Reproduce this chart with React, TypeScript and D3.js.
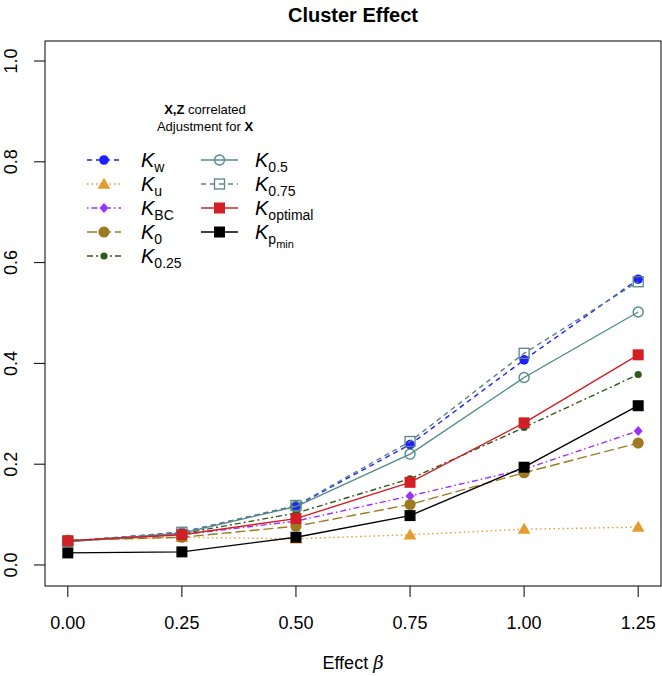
import React from "react";
import * as d3 from "d3";

// effect sizes on the x axis
const betas = [0, 0.25, 0.5, 0.75, 1.0, 1.25];
const xTicks = ["0.00", "0.25", "0.50", "0.75", "1.00", "1.25"];
const yTicks = ["0.0", "0.2", "0.4", "0.6", "0.8", "1.0"];

// rejection rates per method
const kW = [0.047, 0.065, 0.117, 0.239, 0.407, 0.567];
const kU = [0.049, 0.055, 0.052, 0.060, 0.071, 0.075];
const kBC = [0.048, 0.060, 0.087, 0.137, 0.190, 0.266];
const k0 = [0.049, 0.055, 0.077, 0.120, 0.183, 0.242];
const k025 = [0.047, 0.062, 0.103, 0.171, 0.273, 0.378];
const k05 = [0.046, 0.063, 0.116, 0.220, 0.372, 0.502];
const k075 = [0.047, 0.065, 0.118, 0.245, 0.420, 0.562];
const kOpt = [0.048, 0.060, 0.092, 0.164, 0.282, 0.417];
const kPmin = [0.024, 0.026, 0.055, 0.098, 0.194, 0.316];

type Series = {
  sub: string;
  subsub?: string;
  values: number[];
  color: string;
  dash: string;
  shape: "circle" | "bigcircle" | "smallcircle" | "triangle" | "diamond" | "square" | "opencircle" | "opensquare";
};

const series: Series[] = [
  { sub: "w", values: kW, color: "#1f1fff", dash: "5,4", shape: "circle" },
  { sub: "u", values: kU, color: "#e69b2e", dash: "1.5,3", shape: "triangle" },
  { sub: "BC", values: kBC, color: "#9b30ff", dash: "1.5,3,6,3", shape: "diamond" },
  { sub: "0", values: k0, color: "#9c7a22", dash: "10,4", shape: "bigcircle" },
  { sub: "0.25", values: k025, color: "#2e5a1a", dash: "6,3,2,3", shape: "smallcircle" },
  { sub: "0.5", values: k05, color: "#528b8b", dash: "", shape: "opencircle" },
  { sub: "0.75", values: k075, color: "#5a8585", dash: "5,4", shape: "opensquare" },
  { sub: "optimal", values: kOpt, color: "#d21f26", dash: "", shape: "square" },
  { sub: "p", subsub: "min", values: kPmin, color: "#000000", dash: "", shape: "square" },
];

const font = "'Liberation Sans', Arial, Helvetica, sans-serif";

const Marker = ({ shape, color, x, y }: { shape: Series["shape"]; color: string; x: number; y: number }) => {
  switch (shape) {
    case "circle":
      return <circle cx={x} cy={y} r={4.8} fill={color} />;
    case "bigcircle":
      return <circle cx={x} cy={y} r={5.6} fill={color} />;
    case "smallcircle":
      return <circle cx={x} cy={y} r={3.6} fill={color} />;
    case "opencircle":
      return <circle cx={x} cy={y} r={5} fill="none" stroke={color} strokeWidth={1.4} />;
    case "triangle":
      return <path d={d3.symbol(d3.symbolTriangle, 70)()!} transform={`translate(${x},${y + 1})`} fill={color} />;
    case "diamond":
      return <path d={`M${x},${y - 5}L${x + 4.5},${y}L${x},${y + 5}L${x - 4.5},${y}Z`} fill={color} />;
    case "square":
      return <rect x={x - 5.5} y={y - 5.5} width={11} height={11} fill={color} />;
    case "opensquare":
      return <rect x={x - 5} y={y - 5} width={10} height={10} fill="none" stroke={color} strokeWidth={1.3} />;
  }
  return null;
};

const App = () => {
  const width = 662;
  const height = 676;
  const box = { left: 45, right: 661, top: 41, bottom: 586 };

  const x = d3.scaleLinear().domain([-0.05, 1.3]).range([box.left, box.right]);
  const y = d3.scaleLinear().domain([-0.0417, 1.0397]).range([box.bottom, box.top]);

  const line = d3
    .line<number>()
    .x((d, i) => x(betas[i]))
    .y((d) => y(d));

  const legendRows = [0, 1, 2, 3, 4].map((i) => 160 + i * 24);

  return (
    <svg
      width={width}
      height={height}
      style={{ position: "absolute", left: 0, top: 0, background: "#fff" }}
      fontFamily={font}
    >
      <rect width={width} height={height} fill="#fff" />
      <text x={353} y={22} textAnchor="middle" fontSize={20} fontWeight="bold">
        Cluster Effect
      </text>

      {/* series */}
      {series.map((s) => (
        <g key={s.sub + (s.subsub || "")}>
          <path d={line(s.values)!} fill="none" stroke={s.color} strokeWidth={1.4} strokeDasharray={s.dash} />
          {s.values.map((v, i) => (
            <Marker key={i} shape={s.shape} color={s.color} x={x(betas[i])} y={y(v)} />
          ))}
        </g>
      ))}

      {/* frame */}
      <rect
        x={box.left}
        y={box.top}
        width={box.right - box.left}
        height={box.bottom - box.top}
        fill="none"
        stroke="#000"
        strokeWidth={1}
      />

      {/* y axis */}
      {yTicks.map((t) => {
        const yy = y(+t);
        return (
          <g key={t}>
            <line x1={box.left - 11} x2={box.left} y1={yy} y2={yy} stroke="#000" />
            <text
              transform={`translate(17,${yy}) rotate(-90)`}
              textAnchor="middle"
              fontSize={18}
            >
              {t}
            </text>
          </g>
        );
      })}

      {/* x axis */}
      {xTicks.map((t) => {
        const xx = x(+t);
        return (
          <g key={t}>
            <line x1={xx} x2={xx} y1={box.bottom} y2={box.bottom + 11} stroke="#000" />
            <text x={xx} y={629} textAnchor="middle" fontSize={18}>
              {t}
            </text>
          </g>
        );
      })}
      <text x={353} y={669} textAnchor="middle" fontSize={18}>
        Effect <tspan fontStyle="italic" fontFamily="'DejaVu Serif', serif">β</tspan>
      </text>

      {/* legend header */}
      <text x={205} y={114} textAnchor="middle" fontSize={13}>
        <tspan fontWeight="bold">X,Z</tspan> correlated
      </text>
      <text x={205} y={131} textAnchor="middle" fontSize={13}>
        Adjustment for <tspan fontWeight="bold">X</tspan>
      </text>

      {/* legend entries */}
      {series.map((s, i) => {
        const col = i < 5 ? 0 : 1;
        const row = i < 5 ? i : i - 5;
        const yy = legendRows[row];
        const x0 = col === 0 ? 87 : 201;
        const x1 = col === 0 ? 121 : 238;
        const xm = (x0 + x1) / 2;
        const tx = col === 0 ? 141 : 255;
        return (
          <g key={"leg" + i}>
            <line x1={x0} x2={x1} y1={yy} y2={yy} stroke={s.color} strokeWidth={1.4} strokeDasharray={s.dash} />
            <Marker shape={s.shape} color={s.color} x={xm} y={yy} />
            <text x={tx} y={yy + 7} fontSize={20}>
              <tspan fontStyle="italic">K</tspan>
              <tspan dy={5} fontSize={14}>{s.sub}</tspan>
              {s.subsub ? (
                <tspan dy={4} fontSize={11}>{s.subsub}</tspan>
              ) : null}
            </text>
          </g>
        );
      })}
    </svg>
  );
};

export default App;
